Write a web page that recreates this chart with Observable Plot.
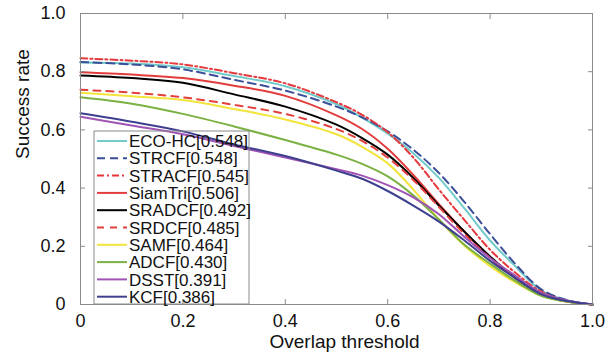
<!DOCTYPE html>
<html>
<head>
<meta charset="utf-8">
<script src="https://cdn.jsdelivr.net/npm/d3@7"></script>
<script src="https://cdn.jsdelivr.net/npm/@observablehq/plot@0.6"></script>
<style>
  html, body { margin: 0; padding: 0; background: #fff; }
  svg { display: block; }
</style>
</head>
<body>
<div id="chart"></div>
<script>
// Overlap thresholds (x) and success rates (y) per tracker
const thresholds = [0, 0.1, 0.2, 0.3, 0.4, 0.5, 0.55, 0.6, 0.65, 0.7, 0.75, 0.8, 0.85, 0.9, 0.95, 1.0];

const trackers = ["ECO-HC[0.548]", "STRCF[0.548]", "STRACF[0.545]", "SiamTri[0.506]", "SRADCF[0.492]",
                  "SRDCF[0.485]", "SAMF[0.464]", "ADCF[0.430]", "DSST[0.391]", "KCF[0.386]"];

const ecoHC   = [0.832, 0.828, 0.815, 0.785, 0.750, 0.688, 0.642, 0.587, 0.520, 0.435, 0.330, 0.220, 0.130, 0.048, 0.015, 0];
const strcf   = [0.833, 0.825, 0.808, 0.772, 0.735, 0.680, 0.643, 0.595, 0.532, 0.452, 0.352, 0.242, 0.138, 0.052, 0.015, 0];
const stracf  = [0.846, 0.838, 0.825, 0.795, 0.760, 0.695, 0.652, 0.592, 0.505, 0.395, 0.290, 0.188, 0.108, 0.044, 0.012, 0];
const siamTri = [0.798, 0.790, 0.778, 0.752, 0.717, 0.650, 0.603, 0.535, 0.445, 0.345, 0.250, 0.162, 0.090, 0.036, 0.010, 0];
const sradcf  = [0.787, 0.778, 0.762, 0.722, 0.680, 0.618, 0.572, 0.515, 0.435, 0.340, 0.250, 0.165, 0.090, 0.035, 0.010, 0];
const srdcf   = [0.738, 0.728, 0.712, 0.686, 0.655, 0.603, 0.562, 0.505, 0.428, 0.335, 0.242, 0.160, 0.090, 0.035, 0.010, 0];
const samf    = [0.728, 0.716, 0.703, 0.672, 0.636, 0.585, 0.542, 0.485, 0.395, 0.292, 0.202, 0.132, 0.075, 0.030, 0.010, 0];
const adcf    = [0.712, 0.690, 0.655, 0.612, 0.565, 0.515, 0.483, 0.440, 0.375, 0.292, 0.205, 0.140, 0.080, 0.030, 0.010, 0];
const dsst    = [0.645, 0.615, 0.585, 0.545, 0.505, 0.465, 0.443, 0.410, 0.368, 0.310, 0.232, 0.160, 0.098, 0.040, 0.014, 0];
const kcf     = [0.657, 0.628, 0.595, 0.550, 0.510, 0.460, 0.432, 0.390, 0.340, 0.285, 0.220, 0.150, 0.090, 0.035, 0.012, 0];

const seriesValues = [ecoHC, strcf, stracf, siamTri, sradcf, srdcf, samf, adcf, dsst, kcf];

const colors  = ["#72caca", "#3b4e98", "#e6383d", "#e23c3c", "#000000", "#e2403c", "#f2e43c", "#7ab142", "#a153b5", "#3e408f"];
const dashes  = [null, "8,5", "7,3,2,3", null, null, "7,6", null, null, null, null];

const xTicks = [0, 0.2, 0.4, 0.6, 0.8, 1.0];
const xTickLabels = ["0", "0.2", "0.4", "0.6", "0.8", "1.0"];
const yTicks = [0, 0.2, 0.4, 0.6, 0.8, 1.0];
const yTickLabels = ["0", "0.2", "0.4", "0.6", "0.8", "1.0"];

const xLabel = "Overlap threshold";
const yLabel = "Success rate";

// table for the library
const rows = [];
trackers.forEach((name, i) => {
  thresholds.forEach((t, j) => rows.push({tracker: name, idx: i, t, v: seriesValues[i][j]}));
});

const FONT = "'Liberation Sans', Arial, Helvetica, sans-serif";
const frameColor = "#8a8a8a";

const lineMarks = trackers.map((name, i) =>
  Plot.line(rows.filter(r => r.idx === i), {
    x: "t", y: "v", curve: "catmull-rom",
    stroke: colors[i], strokeWidth: 2, strokeDasharray: dashes[i] || undefined
  })
);

const inTick = (opts) => Object.assign({tickSize: -5, tickFormat: () => "", label: null, stroke: frameColor}, opts);

const chart = Plot.plot({
  width: 605, height: 358,
  marginLeft: 80, marginRight: 13, marginTop: 13, marginBottom: 54,
  style: {fontFamily: FONT, fontSize: "18px", background: "#fff", color: "#111"},
  x: {domain: [0, 1]},
  y: {domain: [0, 1]},
  marks: [
    ...lineMarks,
    Plot.frame({stroke: frameColor}),
    Plot.axisX(inTick({anchor: "bottom", ticks: xTicks})),
    Plot.axisX(inTick({anchor: "top", ticks: xTicks})),
    Plot.axisY(inTick({anchor: "left", ticks: yTicks})),
    Plot.axisY(inTick({anchor: "right", ticks: yTicks})),
    Plot.axisX({anchor: "bottom", ticks: xTicks, tickSize: 0, tickPadding: 10,
                tickFormat: d => xTickLabels[xTicks.indexOf(d)], label: null, fontSize: 18}),
    Plot.axisY({anchor: "left", ticks: yTicks, tickSize: 0, tickPadding: 15,
                tickFormat: d => yTickLabels[yTicks.indexOf(d)], label: null, fontSize: 18}),
    Plot.text([xLabel], {text: d => d, frameAnchor: "bottom", dy: 43, dx: 8, fontSize: 19, fill: "#111"}),
    Plot.text([yLabel], {text: d => d, frameAnchor: "left", dx: -58, rotate: -90, fontSize: 19, fill: "#111"})
  ]
});

document.getElementById("chart").appendChild(chart);

// legend
const svg = d3.select(chart);
const lg = svg.append("g").attr("class", "legend").attr("text-anchor", "start");
const L = {x: 94, y: 131, w: 155, h: 173, first: 141, step: 17.3, lx1: 97, lx2: 127, tx: 129};
lg.append("rect").attr("x", L.x).attr("y", L.y).attr("width", L.w).attr("height", L.h)
  .attr("fill", "none").attr("stroke", frameColor).attr("stroke-width", 1);
trackers.forEach((name, i) => {
  const y = L.first + i * L.step;
  lg.append("line").attr("x1", L.lx1).attr("x2", L.lx2).attr("y1", y).attr("y2", y)
    .attr("stroke", colors[i]).attr("stroke-width", 2)
    .attr("stroke-dasharray", dashes[i] || null);
  lg.append("text").attr("x", L.tx).attr("y", y).attr("dy", "0.36em")
    .attr("text-anchor", "start")
    .attr("font-family", FONT).attr("font-size", 17).attr("fill", "#111").text(name);
});
</script>
</body>
</html>
